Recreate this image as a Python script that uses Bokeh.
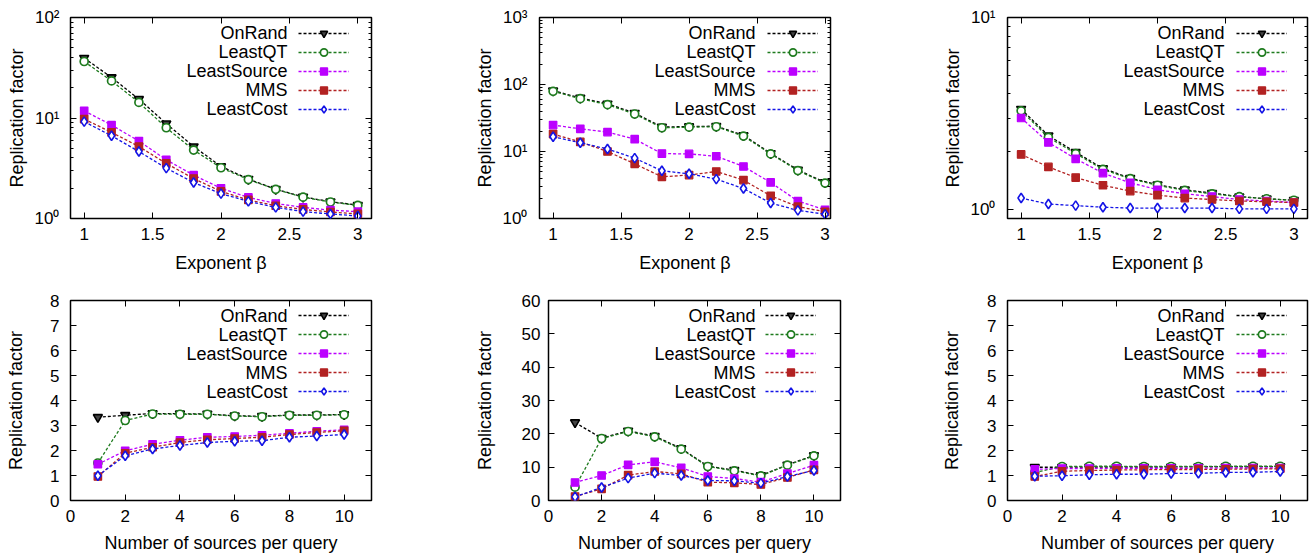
import math
from bokeh.plotting import figure
from bokeh.layouts import column, row
from bokeh.models import (Range1d, FixedTicker, LinearAxis, LogAxis, Legend, LegendItem, Label,
                          CustomJSTickFormatter, NumeralTickFormatter)
from bokeh.core.properties import value
from bokeh.embed import file_html
from bokeh.resources import INLINE

# ---------------- data ----------------
series = ["OnRand", "LeastQT", "LeastSource", "MMS", "LeastCost"]

beta = [1.0, 1.2, 1.4, 1.6, 1.8, 2.0, 2.2, 2.4, 2.6, 2.8, 3.0]
sources = [1, 2, 3, 4, 5, 6, 7, 8, 9, 10]

# top-left (log 1..100)
a_onrand = [39.5, 25.3, 15.4, 8.8, 5.2, 3.3, 2.47, 1.96, 1.64, 1.47, 1.36]
a_leastqt = [36.5, 23.4, 14.3, 8.0, 4.8, 3.2, 2.44, 1.95, 1.63, 1.46, 1.35]
a_leastsource = [11.8, 8.5, 5.9, 3.84, 2.70, 2.0, 1.62, 1.41, 1.29, 1.21, 1.17]
a_mms = [9.75, 7.2, 5.2, 3.53, 2.50, 1.86, 1.53, 1.34, 1.23, 1.16, 1.11]
a_leastcost = [9.2, 6.65, 4.64, 3.17, 2.28, 1.77, 1.48, 1.29, 1.17, 1.11, 1.06]

# top-middle (log 1..1000)
b_onrand = [81, 63, 51.5, 37.5, 23.2, 23.6, 23.9, 17.4, 9.4, 5.3, 3.45]
b_leastqt = [79, 61.5, 50, 36.3, 22.6, 23.1, 23.4, 17.0, 9.2, 5.2, 3.38]
b_leastsource = [24.8, 21.8, 19.5, 15.3, 9.3, 9.2, 8.5, 5.97, 3.45, 1.82, 1.35]
b_mms = [18.2, 13.9, 10.0, 6.55, 4.19, 4.45, 5.03, 3.74, 2.18, 1.50, 1.26]
b_leastcost = [16.6, 13.5, 10.9, 7.96, 5.15, 4.65, 3.87, 2.80, 1.70, 1.32, 1.16]

# top-right (log 0.9..10)
c_onrand = [3.34, 2.43, 1.99, 1.64, 1.46, 1.35, 1.27, 1.22, 1.17, 1.14, 1.12]
c_leastqt = [3.27, 2.38, 1.96, 1.62, 1.45, 1.34, 1.26, 1.21, 1.17, 1.14, 1.12]
c_leastsource = [3.0, 2.24, 1.84, 1.55, 1.38, 1.27, 1.21, 1.17, 1.13, 1.11, 1.09]
c_mms = [1.94, 1.67, 1.47, 1.34, 1.25, 1.19, 1.15, 1.13, 1.11, 1.10, 1.09]
c_leastcost = [1.15, 1.07, 1.05, 1.03, 1.02, 1.02, 1.02, 1.02, 1.01, 1.01, 1.01]

# bottom-left (0..8)
d_onrand = [3.33, 3.41, 3.48, 3.47, 3.46, 3.39, 3.37, 3.42, 3.42, 3.44]
d_leastqt = [1.5, 3.2, 3.46, 3.45, 3.45, 3.38, 3.35, 3.41, 3.41, 3.43]
d_leastsource = [1.45, 1.99, 2.25, 2.41, 2.53, 2.56, 2.61, 2.69, 2.77, 2.83]
d_mms = [0.96, 1.89, 2.13, 2.32, 2.43, 2.48, 2.53, 2.64, 2.72, 2.79]
d_leastcost = [0.99, 1.79, 2.06, 2.2, 2.32, 2.37, 2.39, 2.53, 2.58, 2.64]

# bottom-middle (0..60)
e_onrand = [23.4, 18.7, 20.9, 19.3, 15.6, 10.3, 9.1, 7.5, 10.7, 13.5]
e_leastqt = [4.0, 18.6, 20.7, 19.1, 15.4, 10.2, 8.9, 7.4, 10.6, 13.4]
e_leastsource = [5.4, 7.5, 10.7, 11.6, 9.8, 7.2, 6.6, 5.5, 8.1, 10.6]
e_mms = [1.2, 3.5, 7.6, 8.7, 8.0, 5.5, 5.3, 4.8, 6.9, 9.2]
e_leastcost = [1.1, 3.9, 6.7, 8.2, 7.5, 6.0, 5.9, 5.2, 7.2, 9.0]

# bottom-right (0..8)
f_onrand = [1.33, 1.33, 1.34, 1.34, 1.34, 1.34, 1.35, 1.35, 1.35, 1.36]
f_leastqt = [1.12, 1.36, 1.37, 1.37, 1.36, 1.36, 1.36, 1.37, 1.37, 1.37]
f_leastsource = [1.25, 1.28, 1.28, 1.29, 1.29, 1.29, 1.29, 1.30, 1.30, 1.30]
f_mms = [0.96, 1.17, 1.20, 1.22, 1.23, 1.24, 1.24, 1.25, 1.26, 1.27]
f_leastcost = [0.97, 0.99, 1.03, 1.05, 1.05, 1.08, 1.09, 1.12, 1.13, 1.16]

beta_ticks = [1, 1.5, 2, 2.5, 3]
source_ticks = [0, 2, 4, 6, 8, 10]
y8_ticks = [0, 1, 2, 3, 4, 5, 6, 7, 8]
y60_ticks = [0, 10, 20, 30, 40, 50, 60]
xlabel_beta = "Exponent \u03b2"
xlabel_sources = "Number of sources per query"
ylabel = "Replication factor"

# ---------------- style ----------------
FONT = "Liberation Sans"
STYLE = {
    "OnRand": dict(color="#000000", marker="inverted_triangle", size=9, fill="#444444", lw=1.6),
    "LeastQT": dict(color="#1e7b1e", marker="circle", size=8, fill="white", lw=1.7),
    "LeastSource": dict(color="#bb00ff", marker="square", size=7.5, fill="#bb00ff", lw=1.2),
    "MMS": dict(color="#b22222", marker="square", size=7.5, fill="#b22222", lw=1.2),
    "LeastCost": dict(color="#1414e6", marker="diamond", size=9.5, fill="white", lw=1.6),
}
ROW = 19          # legend row pitch (px)

LOG_FMT = CustomJSTickFormatter(code="""
var s = ['\\u2070', '\\u00b9', '\\u00b2', '\\u00b3'];
var e = Math.round(Math.log(tick) / Math.LN10);
return '10' + s[e];
""")


def log_minor(lo_dec, hi_dec):
    return [m * 10 ** d for d in range(lo_dec, hi_dec) for m in range(2, 10)]


def style_axis(ax, minor):
    ax.major_tick_in = 6
    ax.major_tick_out = 0
    ax.minor_tick_in = 3
    ax.minor_tick_out = 0
    ax.major_tick_line_color = "black"
    ax.minor_tick_line_color = "black" if minor else None
    ax.axis_line_color = None
    ax.major_label_text_font = FONT
    ax.major_label_text_font_size = "17px"
    ax.major_label_text_color = "black"
    ax.axis_label_text_font = FONT
    ax.axis_label_text_font_size = "18px"
    ax.axis_label_text_font_style = "normal"
    ax.axis_label_text_color = "black"


def make_panel(x, ys, *, log, x_range, y_range, x_ticks, y_ticks, y_minor, xlabel, x_fmt,
               width, height, border, ytick_std, ylab_std, xtick_std, xlab_std,
               leg_glyph_x, leg_text_x, leg_top):
    kw = dict(y_axis_type="log") if log else {}
    p = figure(width=width, height=height,
               x_range=Range1d(*x_range), y_range=Range1d(*y_range),
               output_backend="svg", toolbar_location=None,
               min_border_left=border[0], min_border_right=border[1],
               min_border_top=border[2], min_border_bottom=border[3], **kw)
    frame_h = height - border[2] - border[3]
    p.background_fill_color = "white"
    p.border_fill_color = "white"
    p.outline_line_color = "black"
    p.outline_line_width = 1.5
    p.xgrid.visible = False
    p.ygrid.visible = False

    xa = p.xaxis[0]
    ya = p.yaxis[0]
    xa.ticker = FixedTicker(ticks=x_ticks)
    xa.formatter = x_fmt
    xa.axis_label = xlabel
    xa.major_label_standoff = xtick_std
    xa.axis_label_standoff = xlab_std
    style_axis(xa, False)
    ya.ticker = FixedTicker(ticks=y_ticks, minor_ticks=y_minor)
    ya.formatter = LOG_FMT if log else NumeralTickFormatter(format="0")
    ya.axis_label = ylabel
    ya.major_label_standoff = ytick_std
    ya.axis_label_standoff = ylab_std
    style_axis(ya, log)

    # mirrored tick axes (gnuplot style)
    ra = (LogAxis if log else LinearAxis)(ticker=FixedTicker(ticks=y_ticks, minor_ticks=y_minor),
                                          formatter=CustomJSTickFormatter(code="return '';"))
    style_axis(ra, log)
    ra.major_label_text_font_size = "0px"
    ra.major_label_standoff = 0
    p.add_layout(ra, "right")
    ta = LinearAxis(ticker=FixedTicker(ticks=x_ticks),
                    formatter=CustomJSTickFormatter(code="return '';"))
    style_axis(ta, False)
    ta.major_label_text_font_size = "0px"
    ta.major_label_standoff = 0
    p.add_layout(ta, "above")

    items_glyph = []
    for name, yv in zip(series, ys):
        st = STYLE[name]
        lr = p.line(x, yv, line_color=st["color"], line_width=1.3, line_dash="3 2")
        sr = p.scatter(x, yv, marker=st["marker"], size=st["size"],
                       line_color=st["color"], fill_color=st["fill"], line_width=st["lw"])
        items_glyph.append(LegendItem(label=value(""), renderers=[lr, sr]))

    # key: sample glyphs (legend) + right-aligned names to their left (gnuplot style)
    n = len(series)
    leg_h = n * (ROW - 1) + (n - 1)
    leg = Legend(items=items_glyph, location=(leg_glyph_x, frame_h - leg_top - leg_h),
                 glyph_width=51, glyph_height=ROW - 1, label_height=ROW - 1, label_width=0,
                 label_standoff=0, spacing=1, padding=0, margin=0, border_line_color=None,
                 background_fill_alpha=0, label_text_font=FONT, label_text_font_size="8px")
    p.add_layout(leg)
    for i, name in enumerate(series):
        cy = frame_h - leg_top - (ROW - 1) / 2 - i * ROW
        p.add_layout(Label(x=leg_text_x, y=cy, x_units="screen", y_units="screen", text=name,
                           text_align="right", text_baseline="middle", text_font=FONT,
                           text_font_size="18px", text_color="black"))
    return p


beta_fmt = NumeralTickFormatter(format="0.[0]")
src_fmt = NumeralTickFormatter(format="0")

TOP_H = 276
BOT_H = 279
TOP_B = (17, 58)
BOT_B = (24, 55)

p1 = make_panel(beta, [a_onrand, a_leastqt, a_leastsource, a_mms, a_leastcost], log=True,
                x_range=(0.9, 3.1), y_range=(1, 100), x_ticks=beta_ticks,
                y_ticks=[1, 10, 100], y_minor=log_minor(0, 2), xlabel=xlabel_beta, x_fmt=beta_fmt,
                width=440, height=TOP_H, border=(70, 69) + TOP_B,
                ytick_std=11, ylab_std=5, xtick_std=9, xlab_std=10,
                leg_glyph_x=228, leg_text_x=217, leg_top=6.7)
p2 = make_panel(beta, [b_onrand, b_leastqt, b_leastsource, b_mms, b_leastcost], log=True,
                x_range=(0.9, 3.04), y_range=(1, 1000), x_ticks=beta_ticks,
                y_ticks=[1, 10, 100, 1000], y_minor=log_minor(0, 3), xlabel=xlabel_beta, x_fmt=beta_fmt,
                width=440, height=TOP_H, border=(99, 50) + TOP_B,
                ytick_std=12, ylab_std=5, xtick_std=9, xlab_std=10,
                leg_glyph_x=228, leg_text_x=216, leg_top=6.7)
p3 = make_panel(beta, [c_onrand, c_leastqt, c_leastsource, c_mms, c_leastcost], log=True,
                x_range=(0.9, 3.1), y_range=(0.9, 10), x_ticks=beta_ticks,
                y_ticks=[1, 10], y_minor=log_minor(0, 1), xlabel=xlabel_beta, x_fmt=beta_fmt,
                width=434, height=TOP_H, border=(127, 7) + TOP_B,
                ytick_std=12, ylab_std=5, xtick_std=9, xlab_std=10,
                leg_glyph_x=229, leg_text_x=217, leg_top=6.7)
p4 = make_panel(sources, [d_onrand, d_leastqt, d_leastsource, d_mms, d_leastcost], log=False,
                x_range=(0, 11), y_range=(0, 8), x_ticks=source_ticks,
                y_ticks=y8_ticks, y_minor=[], xlabel=xlabel_sources, x_fmt=src_fmt,
                width=440, height=BOT_H, border=(70, 69) + BOT_B,
                ytick_std=11, ylab_std=21, xtick_std=9, xlab_std=8,
                leg_glyph_x=228, leg_text_x=217, leg_top=6.3)
p5 = make_panel(sources, [e_onrand, e_leastqt, e_leastsource, e_mms, e_leastcost], log=False,
                x_range=(0, 11), y_range=(0, 60), x_ticks=source_ticks,
                y_ticks=y60_ticks, y_minor=[], xlabel=xlabel_sources, x_fmt=src_fmt,
                width=440, height=BOT_H, border=(108, 40) + BOT_B,
                ytick_std=8, ylab_std=24, xtick_std=9, xlab_std=8,
                leg_glyph_x=217, leg_text_x=207, leg_top=6.3)
p6 = make_panel(sources, [f_onrand, f_leastqt, f_leastsource, f_mms, f_leastcost], log=False,
                x_range=(0, 11), y_range=(0, 8), x_ticks=source_ticks,
                y_ticks=y8_ticks, y_minor=[], xlabel=xlabel_sources, x_fmt=src_fmt,
                width=434, height=BOT_H, border=(127, 7) + BOT_B,
                ytick_std=11, ylab_std=22, xtick_std=9, xlab_std=8,
                leg_glyph_x=229, leg_text_x=217, leg_top=6.3)

layout = column(row(p1, p2, p3), row(p4, p5, p6))

with open("out.html", "w", encoding="utf-8") as f:
    f.write(file_html(layout, INLINE))
